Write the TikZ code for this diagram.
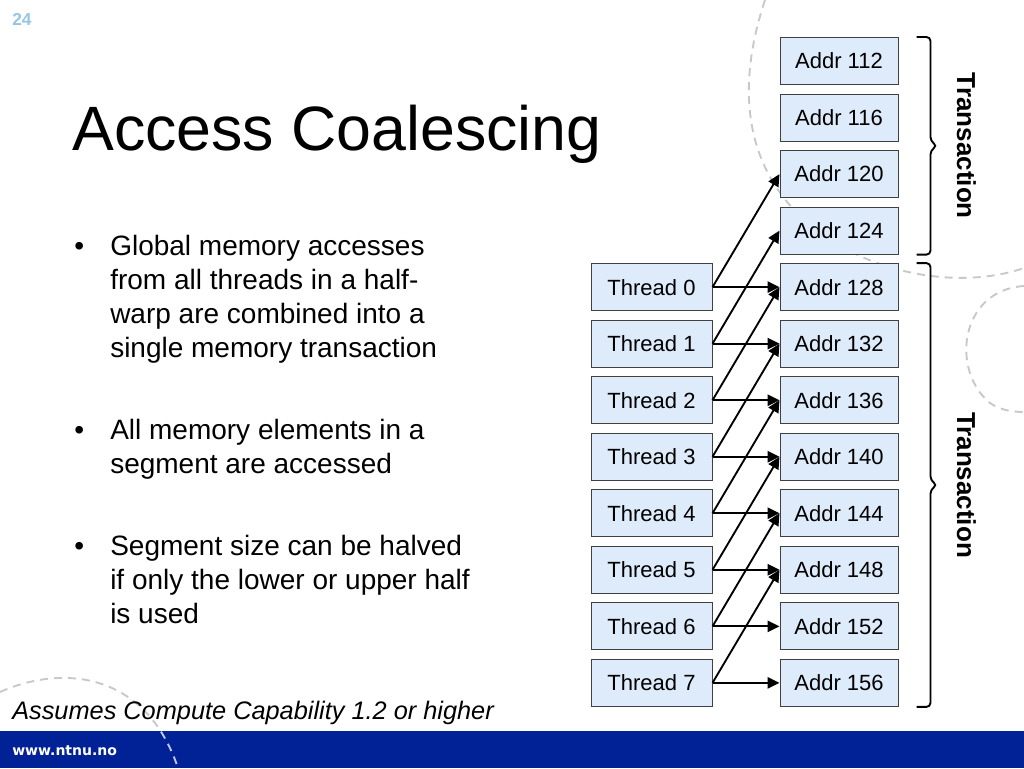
\documentclass[tikz,border=0pt]{standalone}
\usepackage{fontspec}
\setmainfont{Liberation Sans}
\newfontfamily\barfont{DejaVu Sans}
\usetikzlibrary{positioning, arrows.meta, calc}
\definecolor{boxblue}{RGB}{221,235,250}
\definecolor{boxline}{RGB}{64,64,64}
\definecolor{ntnublue}{RGB}{0,34,150}
\definecolor{pagenum}{RGB}{150,198,228}
\definecolor{swirl}{RGB}{200,200,200}

\begin{document}
\begin{tikzpicture}[x=0.75pt, y=-0.75pt, node distance=6.4pt,
    addrbox/.style={draw=boxline, fill=boxblue, line width=0.75pt, minimum width=88.5pt, minimum height=35.25pt, inner sep=0pt, font=\fontsize{16.5}{18}\selectfont},
    threadbox/.style={addrbox, minimum width=90.75pt},
    link/.style={line width=1.4pt, -{Triangle[length=9pt, width=8.5pt]}},
    bracket/.style={line width=1.4pt, rounded corners=3pt},
    swirlline/.style={draw=swirl, line width=1.4pt, dash pattern=on 6pt off 4.5pt},
    bullettext/.style={anchor=north west, inner sep=0pt, align=left, font=\fontsize{21}{25.5}\selectfont},
    bulletdot/.style={anchor=base west, inner sep=0pt, font=\fontsize{21}{25.5}\selectfont},
    bracelabel/.style={rotate=-90, inner sep=0pt, font=\bfseries\fontsize{19.5}{22}\selectfont}]
                \useasboundingbox (0,0) rectangle (1024,768);
                \fill[white] (0,0) rectangle (1024,768);
                % background swirls
                \draw[swirlline] (765,0) .. controls (735,90) and (745,170) .. (810,225) .. controls (870,275) and (960,290) .. (1024,268);
                \draw[swirlline] (1024,286) .. controls (960,290) and (950,370) .. (990,403) .. controls (1000,410) and (1012,412) .. (1024,412);
                \draw[swirlline] (0,692) .. controls (60,665) and (145,670) .. (178,768);
                \fill[ntnublue] (0,731) rectangle (1024,768);
                \begin{scope}
                    \clip (0,731) rectangle (1024,768);
                    \draw[swirlline, draw=white!75!ntnublue] (0,692) .. controls (60,665) and (145,670) .. (178,768);
                \end{scope}

                \node [anchor=base west, inner sep=0pt, text=pagenum, font=\bfseries\fontsize{13}{15}\selectfont] (page) at (12,25) {24};
                \node [anchor=base west, inner sep=0pt, font=\fontsize{47}{56}\selectfont] (title) at (72,150) {Access Coalescing};

                \node [bulletdot] (d1) at (74,255) {•};
                \node [bullettext] (b1) at (110,234.5) {Global memory accesses\\from all threads in a half-\\warp are combined into a\\single memory transaction};
                \node [bulletdot] (d2) at (74,439) {•};
                \node [bullettext] (b2) at (110,418.5) {All memory elements in a\\segment are accessed};
                \node [bulletdot] (d3) at (74,555) {•};
                \node [bullettext] (b3) at (110,534.5) {Segment size can be halved\\if only the lower or upper half\\is used};

                \node [anchor=base west, inner sep=0pt, font=\itshape\fontsize{19}{23}\selectfont] (note) at (12,719) {Assumes Compute Capability 1.2 or higher};
                \node [anchor=base west, inner sep=0pt, text=white, font=\barfont\bfseries\fontsize{10.5}{12}\selectfont] (site) at (12,755) {www.ntnu.no};

                \node [addrbox] (a112) at (839,61) {Addr 112};
                \node [addrbox, below=of a112] (a116) {Addr 116};
                \node [addrbox, below=of a116] (a120) {Addr 120};
                \node [addrbox, below=of a120] (a124) {Addr 124};
                \node [addrbox, below=of a124] (a128) {Addr 128};
                \node [addrbox, below=of a128] (a132) {Addr 132};
                \node [addrbox, below=of a132] (a136) {Addr 136};
                \node [addrbox, below=of a136] (a140) {Addr 140};
                \node [addrbox, below=of a140] (a144) {Addr 144};
                \node [addrbox, below=of a144] (a148) {Addr 148};
                \node [addrbox, below=of a148] (a152) {Addr 152};
                \node [addrbox, below=of a152] (a156) {Addr 156};

                \node [threadbox, left=50.25pt of a128] (t0) {Thread 0};
                \node [threadbox, below=of t0] (t1) {Thread 1};
                \node [threadbox, below=of t1] (t2) {Thread 2};
                \node [threadbox, below=of t2] (t3) {Thread 3};
                \node [threadbox, below=of t3] (t4) {Thread 4};
                \node [threadbox, below=of t4] (t5) {Thread 5};
                \node [threadbox, below=of t5] (t6) {Thread 6};
                \node [threadbox, below=of t6] (t7) {Thread 7};

                \draw [link] (t0.east) -- (a128.west);
                \draw [link] (t0.east) -- (a120.west);
                \draw [link] (t1.east) -- (a132.west);
                \draw [link] (t1.east) -- (a124.west);
                \draw [link] (t2.east) -- (a136.west);
                \draw [link] (t2.east) -- (a128.west);
                \draw [link] (t3.east) -- (a140.west);
                \draw [link] (t3.east) -- (a132.west);
                \draw [link] (t4.east) -- (a144.west);
                \draw [link] (t4.east) -- (a136.west);
                \draw [link] (t5.east) -- (a148.west);
                \draw [link] (t5.east) -- (a140.west);
                \draw [link] (t6.east) -- (a152.west);
                \draw [link] (t6.east) -- (a144.west);
                \draw [link] (t7.east) -- (a156.west);
                \draw [link] (t7.east) -- (a148.west);

                % braces
                \coordinate (m1) at ($(a116.south east)!0.5!(a120.north east)$);
                \coordinate (m2) at ($(a140.south east)!0.5!(a144.north east)$);
                \draw [bracket] ([xshift=13.5pt]a112.north east) -| ([xshift=24pt, yshift=3.5pt]m1) -- ([xshift=29pt]m1)
                    -- ([xshift=24pt, yshift=-3.5pt]m1) |- ([xshift=13.5pt]a124.south east);
                \draw [bracket] ([xshift=13.5pt]a128.north east) -| ([xshift=24pt, yshift=3.5pt]m2) -- ([xshift=29pt]m2)
                    -- ([xshift=24pt, yshift=-3.5pt]m2) |- ([xshift=13.5pt]a156.south east);
                \node [bracelabel] (tr1) at ([xshift=51pt]m1) {Transaction};
                \node [bracelabel] (tr2) at ([xshift=51pt]m2) {Transaction};
            \end{tikzpicture}
\end{document}
